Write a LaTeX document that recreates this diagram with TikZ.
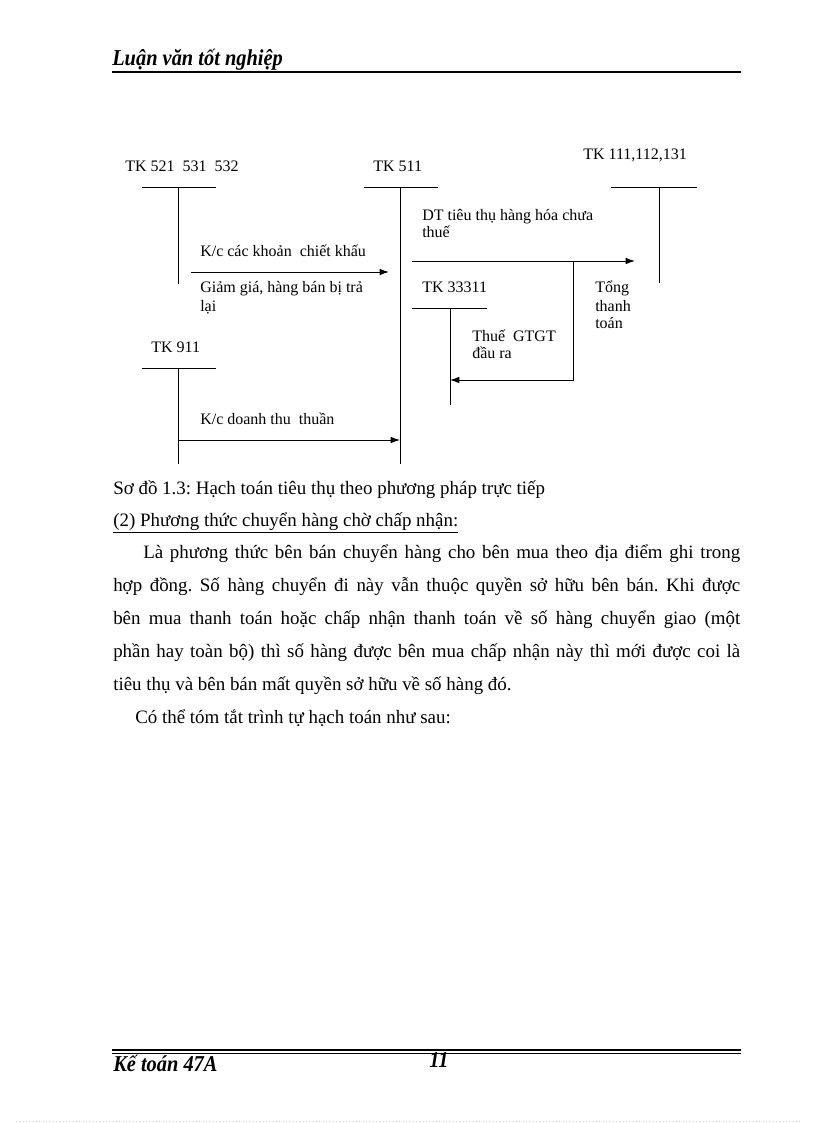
\documentclass[tikz,border=0pt]{standalone}
\usepackage{fontspec}
\setmainfont{Liberation Serif}
\newfontfamily\hdrfont[FakeStretch=0.9]{Liberation Serif}
\usetikzlibrary{arrows.meta}
\frenchspacing
\tikzset{
  lbl/.style={anchor=base west, inner sep=0pt, font=\fontsize{12}{14}\selectfont},
  body/.style={anchor=base west, inner sep=0pt, font=\fontsize{14.2}{17}\selectfont},
  acct/.style={line width=0.75pt},
  flow/.style={line width=0.75pt, -{Latex[length=7pt,width=5pt]}},
  hdr/.style={anchor=base west, inner sep=0pt, font=\hdrfont\fontsize{17}{19}\selectfont\bfseries\itshape},
}
\newcommand{\jline}[1]{\makebox[470.25pt][s]{#1}}
\begin{document}
\begin{tikzpicture}[x=0.75pt,y=-0.75pt]
\useasboundingbox (0,0) rectangle (816,1123);
% header
\node[hdr] (head) at (112,66) {Luận văn tốt nghiệp};
\draw[line width=1.5pt] (112,72) coordinate (hl) -- (741,72) coordinate (hr);
% T accounts
\node[lbl] (n521) at (125,172) {TK 521\ \ 531\ \ 532};
\coordinate (a1l) at (142,188); \coordinate (a1r) at (216,188);
\coordinate (a1t) at (178,188); \coordinate (a1b) at (178,284);
\draw[acct] (a1l) -- (a1r); \draw[acct] (a1t) -- (a1b);

\node[lbl] (n511) at (373,172) {TK 511};
\coordinate (a2l) at (364,188); \coordinate (a2r) at (438,188);
\coordinate (a2t) at (400,188); \coordinate (a2b) at (400,464);
\draw[acct] (a2l) -- (a2r); \draw[acct] (a2t) -- (a2b);

\node[lbl] (n111) at (583,160) {TK 111,112,131};
\coordinate (a3l) at (611,188); \coordinate (a3r) at (697,188);
\coordinate (a3t) at (659,188); \coordinate (a3b) at (659,283);
\draw[acct] (a3l) -- (a3r); \draw[acct] (a3t) -- (a3b);

\node[lbl] (n333) at (422,292) {TK 33311};
\coordinate (a4l) at (412,308); \coordinate (a4r) at (487,308);
\coordinate (a4t) at (450,308); \coordinate (a4b) at (450,405);
\draw[acct] (a4l) -- (a4r); \draw[acct] (a4t) -- (a4b);

\node[lbl] (n911) at (151,352) {TK 911};
\coordinate (a5l) at (142,368); \coordinate (a5r) at (216,368);
\coordinate (a5t) at (178,368); \coordinate (a5b) at (178,464);
\draw[acct] (a5l) -- (a5r); \draw[acct] (a5t) -- (a5b);

% flows
\coordinate (f1s) at (191,272); \coordinate (f1e) at (389,272);
\draw[flow] (f1s) -- (f1e);
\node[lbl] (t1) at (200,256) {K/c các khoản\ \ chiết khấu};
\node[lbl] (t2) at (200,292) {Giảm giá, hàng bán bị trả};
\node[lbl] (t3) at (200,311) {lại};

\coordinate (f2s) at (412,261); \coordinate (f2e) at (635,261);
\draw[flow] (f2s) -- (f2e);
\node[lbl] (t4) at (422,220) {DT tiêu thụ hàng hóa chưa};
\node[lbl] (t5) at (422,238) {thuế};

\coordinate (f3s) at (573,261); \coordinate (f3c) at (573,380); \coordinate (f3e) at (450,380);
\draw[flow] (f3s) -- (f3c) -- (f3e);
\node[lbl] (t6) at (472,341) {Thuế\ \ GTGT};
\node[lbl] (t7) at (472,358) {đầu ra};
\node[lbl] (t8) at (595,292) {Tổng};
\node[lbl] (t9) at (595,311) {thanh};
\node[lbl] (t10) at (595,328) {toán};

\coordinate (f4s) at (178,440); \coordinate (f4e) at (400,440);
\draw[flow] (f4s) -- (f4e);
\node[lbl] (t11) at (200,424) {K/c doanh thu\ \ thuần};

% text
\node[body] (cap) at (113,494) {Sơ đồ 1.3: Hạch toán tiêu thụ theo phương pháp trực tiếp};
\node[body] (sec) at (113,526) {\underline{(2) Phương thức chuyển hàng chờ chấp nhận:}};
\node[body] (p1) at (143,558) {\makebox[447.75pt][s]{Là phương thức bên bán chuyển hàng cho bên mua theo địa điểm ghi trong}};
\node[body] (p2) at (113,591) {\jline{hợp đồng. Số hàng chuyển đi này vẫn thuộc quyền sở hữu bên bán. Khi được}};
\node[body] (p3) at (113,624) {\jline{bên mua thanh toán hoặc chấp nhận thanh toán về số hàng chuyển giao (một}};
\node[body] (p4) at (113,657) {\jline{phần hay toàn bộ) thì số hàng được bên mua chấp nhận này thì mới được coi là}};
\node[body] (p5) at (113,690) {tiêu thụ và bên bán mất quyền sở hữu về số hàng đó.};
\node[body] (p6) at (135,723) {Có thể tóm tắt trình tự hạch toán như sau:};

% footer
\draw[line width=1.2pt] (112,1050) coordinate (fl1) -- (741,1050) coordinate (fr1);
\draw[line width=0.6pt] (112,1053) coordinate (fl2) -- (741,1053) coordinate (fr2);
\node[hdr] (foot) at (113,1071) {Kế toán 47A};
\node[hdr] (pg) at (429,1067) {11};
\draw[gray!40, dotted, line width=0.5pt] (16,1121) coordinate (dl) -- (800,1121) coordinate (dr);
\end{tikzpicture}
\end{document}
